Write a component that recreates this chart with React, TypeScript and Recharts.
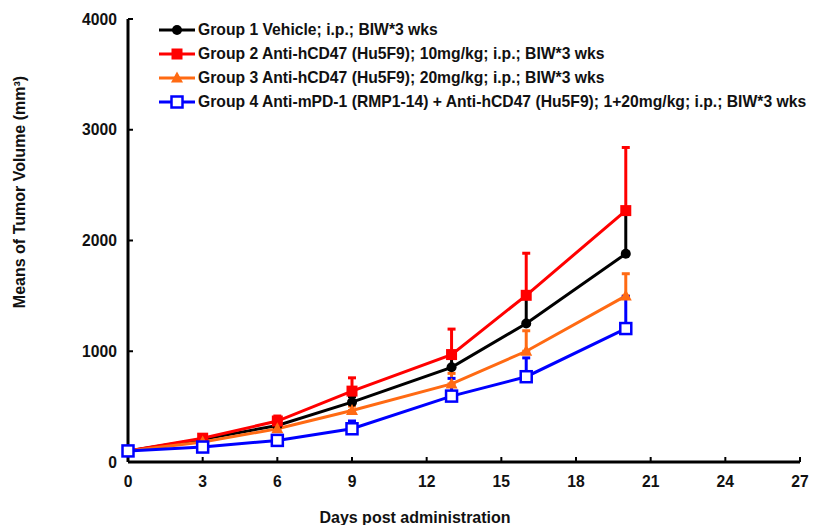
import React from 'react';
import { LineChart, Line, XAxis, YAxis, ErrorBar, Legend } from 'recharts';

const days = [0, 3, 6, 9, 13, 16, 20];
const xTicks = [0, 3, 6, 9, 12, 15, 18, 21, 24, 27];
const yTicks = [0, 1000, 2000, 3000, 4000];

// group means (mm^3)
const g1 = [100, 205, 330, 540, 855, 1250, 1880];
const g2 = [100, 215, 370, 640, 970, 1505, 2270];
const g3 = [100, 180, 300, 465, 705, 1000, 1500];
const g4 = [100, 135, 195, 300, 595, 770, 1205];

// upper error only
const g1Err = [0, 20, 30, 50, 80, 250, 390];
const g2Err = [0, 25, 45, 120, 230, 380, 570];
const g3Err = [0, 20, 30, 40, 95, 185, 200];
const g4Err = [0, 15, 25, 70, 160, 170, 290];

const groupNames = [
  'Group 1 Vehicle; i.p.; BIW*3 wks',
  'Group 2 Anti-hCD47 (Hu5F9); 10mg/kg; i.p.; BIW*3 wks',
  'Group 3 Anti-hCD47 (Hu5F9); 20mg/kg; i.p.; BIW*3 wks',
  'Group 4 Anti-mPD-1 (RMP1-14) + Anti-hCD47 (Hu5F9); 1+20mg/kg; i.p.; BIW*3 wks',
];

const COLORS = ['#000000', '#ff0000', '#ff6a13', '#0000ff'];
const FONT = '"Liberation Sans", Arial, sans-serif';

const data = days.map((d, i) => ({
  day: d,
  g1: g1[i],
  g2: g2[i],
  g3: g3[i],
  g4: g4[i],
  g1e: [0, g1Err[i]],
  g2e: [0, g2Err[i]],
  g3e: [0, g3Err[i]],
  g4e: [0, g4Err[i]],
}));

const Marker = ({ kind, cx, cy }: { kind: number; cx: number; cy: number }) => {
  if (kind === 0) return <circle cx={cx} cy={cy} r={5} fill="#000" />;
  if (kind === 1) return <rect x={cx - 5.5} y={cy - 5.5} width={11} height={11} fill={COLORS[1]} />;
  if (kind === 2)
    return (
      <polygon
        points={`${cx},${cy - 6.5} ${cx + 6},${cy + 4.5} ${cx - 6},${cy + 4.5}`}
        fill={COLORS[2]}
      />
    );
  return (
    <rect x={cx - 5.5} y={cy - 5.5} width={11} height={11} fill="#fff" stroke={COLORS[3]} strokeWidth={2.5} />
  );
};

const makeDot = (kind: number) => (props: any) => (
  <Marker key={`${kind}-${props.index}`} kind={kind} cx={props.cx} cy={props.cy} />
);

const LegendBox = () => (
  <div style={{ fontFamily: FONT, fontWeight: 'bold', fontSize: 15.7, color: '#111' }}>
    {groupNames.map((name, i) => (
      <div key={name} style={{ display: 'flex', alignItems: 'center', height: 24, whiteSpace: 'nowrap' }}>
        <svg width={38} height={16} style={{ marginRight: 2 }}>
          <line x1={1} y1={8} x2={37} y2={8} stroke={COLORS[i]} strokeWidth={3} />
          <Marker kind={i} cx={19} cy={8} />
        </svg>
        <span>{name}</span>
      </div>
    ))}
  </div>
);

const YTitle = () => (
  <text
    x={19}
    y={192}
    transform="rotate(-90, 19, 192)"
    textAnchor="middle"
    dominantBaseline="central"
    fontFamily={FONT}
    fontWeight="bold"
    fontSize={16}
    fill="#111"
  >
    Means of Tumor Volume (mm³)
  </text>
);

const XTitle = () => (
  <text
    x={415}
    y={517}
    textAnchor="middle"
    dominantBaseline="central"
    fontFamily={FONT}
    fontWeight="bold"
    fontSize={16}
    fill="#111"
  >
    Days post administration
  </text>
);

const tickStyle = { fill: '#111', fontFamily: FONT, fontWeight: 'bold', fontSize: 15.7 };

export default function App() {
  const keys = ['g1', 'g2', 'g3', 'g4'];
  return (
    <div style={{ position: 'absolute', left: 0, top: 0, background: '#fff' }}>
      <LineChart width={814} height={525} data={data} margin={{ top: 19, right: 14, left: 0, bottom: 33 }}>
        <XAxis
          dataKey="day"
          type="number"
          domain={[0, 27]}
          ticks={xTicks}
          interval={0}
          height={30}
          axisLine={{ stroke: '#000', strokeWidth: 3 }}
          tickLine={{ stroke: '#000', strokeWidth: 2 }}
          tickSize={-5}
          tickMargin={19}
          tick={tickStyle}
          label={<XTitle />}
        />
        <YAxis
          type="number"
          domain={[0, 4000]}
          ticks={yTicks}
          interval={0}
          width={128}
          axisLine={{ stroke: '#000', strokeWidth: 3 }}
          tickLine={{ stroke: '#000', strokeWidth: 2 }}
          tickSize={-5}
          tickMargin={16}
          tick={tickStyle}
          label={<YTitle />}
        />
        <Legend
          layout="horizontal"
          align="center"
          verticalAlign="middle"
          content={<LegendBox />}
          wrapperStyle={{ top: 18, left: 158, width: 656, height: 96 }}
        />
        {keys.map((k, i) => (
          <Line
            key={k}
            dataKey={k}
            type="linear"
            stroke={COLORS[i]}
            strokeWidth={3}
            dot={makeDot(i)}
            activeDot={false}
            isAnimationActive={false}
          >
            <ErrorBar dataKey={`${k}e`} width={4} strokeWidth={3} stroke={COLORS[i]} direction="y" />
          </Line>
        ))}
      </LineChart>
    </div>
  );
}
